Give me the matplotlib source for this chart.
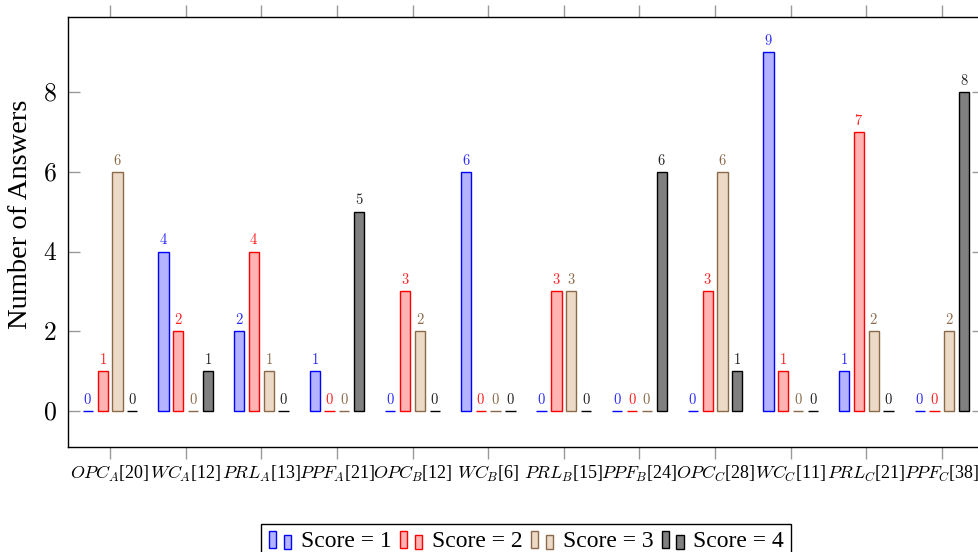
import matplotlib
matplotlib.use("Agg")
import matplotlib.pyplot as plt
import numpy as np
from matplotlib.patches import Rectangle
from matplotlib.legend_handler import HandlerBase
from matplotlib.container import BarContainer

# Categories (task type, scenario, number of items)
cat_names = ["OPC", "WC", "PRL", "PPF", "OPC", "WC", "PRL", "PPF", "OPC", "WC", "PRL", "PPF"]
cat_groups = ["A", "A", "A", "A", "B", "B", "B", "B", "C", "C", "C", "C"]
cat_counts = [20, 12, 13, 21, 12, 6, 15, 24, 28, 11, 21, 38]

# Number of answers per score
score1 = [0, 4, 2, 1, 0, 6, 0, 0, 0, 9, 1, 0]
score2 = [1, 2, 4, 0, 3, 0, 3, 0, 3, 1, 7, 0]
score3 = [6, 0, 1, 0, 2, 0, 3, 0, 6, 0, 2, 2]
score4 = [0, 1, 0, 5, 0, 0, 0, 6, 1, 0, 0, 8]

series_labels = ["Score = 1", "Score = 2", "Score = 3", "Score = 4"]
y_ticks = [0, 2, 4, 6, 8]

plt.rcParams["font.family"] = ["Liberation Serif", "DejaVu Serif"]
plt.rcParams["mathtext.fontset"] = "cm"

fills = ["#b3b3ff", "#ffb3b3", "#ecd9c6", "#808080"]
edges = ["#0000ff", "#ff0000", "#8b6a4a", "#000000"]
text_colors = ["#2b2bff", "#ff2020", "#8b6a4a", "#222222"]


class TwoBarHandler(HandlerBase):
    """Legend image made of two small bars, like an ybar legend."""

    def create_artists(self, legend, orig_handle, xdescent, ydescent,
                       width, height, fontsize, trans):
        p = orig_handle.patches[0]
        fc, ec = p.get_facecolor(), p.get_edgecolor()
        x0 = -xdescent
        y0 = -ydescent
        bw = width * 0.28
        r1 = Rectangle((x0 + 0.05 * width, y0 - 0.05 * height), bw, height * 1.05,
                       facecolor=fc, edgecolor=ec, lw=1.0, transform=trans)
        r2 = Rectangle((x0 + 0.62 * width, y0 - 0.1 * height), bw, height * 0.85,
                       facecolor=fc, edgecolor=ec, lw=1.0, transform=trans)
        return [r1, r2]


fig = plt.figure(figsize=(9.79, 5.52), dpi=100)
ax = fig.add_axes([68 / 979, 105 / 552, 916 / 979, 430 / 552])

x = np.arange(len(cat_names))
series = [score1, score2, score3, score4]
offsets = [-0.3, -0.1, 0.1, 0.3]
bar_w = 0.135

containers = []
for vals, off, fc, ec, tc, lab in zip(series, offsets, fills, edges, text_colors, series_labels):
    bc = ax.bar(x + off * 0.98, vals, width=bar_w, color=fc, edgecolor=ec,
                linewidth=1.0, label=lab, zorder=3)
    containers.append(bc)
    for xi, v in zip(x + off * 0.98, vals):
        ax.annotate(f"${v}$", (xi, v), xytext=(0, 3), textcoords="offset points",
                    ha="center", va="bottom", fontsize=10.5, color=tc)

ax.set_xlim(-0.556, 11.556)
ax.set_ylim(-0.9, 9.88)
ax.set_yticks(y_ticks)
ax.set_yticklabels([f"${t}$" for t in y_ticks], fontsize=18.5)
ax.set_xticks(x)
ax.set_xticklabels([f"${n}_{{{g}}}$[{c}]" for n, g, c in zip(cat_names, cat_groups, cat_counts)],
                   fontsize=13)
ax.tick_params(axis="x", direction="out", length=8.5, width=1, color="#999999",
               top=True, bottom=True, pad=4)
ax.tick_params(axis="y", direction="in", length=8.5, width=1, color="#999999",
               left=True, right=True, pad=8)
for s in ax.spines.values():
    s.set_linewidth(1.0)
ax.set_ylabel("Number of Answers", fontsize=20.5)
ax.yaxis.set_label_coords(-0.038, 0.54)

fig.legend(handles=containers, labels=series_labels, loc="upper center",
           bbox_to_anchor=(526 / 979, 1 - 512 / 552), ncol=4, fontsize=17,
           frameon=True, fancybox=False, edgecolor="black", framealpha=1,
           handlelength=1.1, handletextpad=0.3, columnspacing=0.3,
           borderpad=0.3, handler_map={BarContainer: TwoBarHandler()})

fig.savefig("out.png", dpi=100)
